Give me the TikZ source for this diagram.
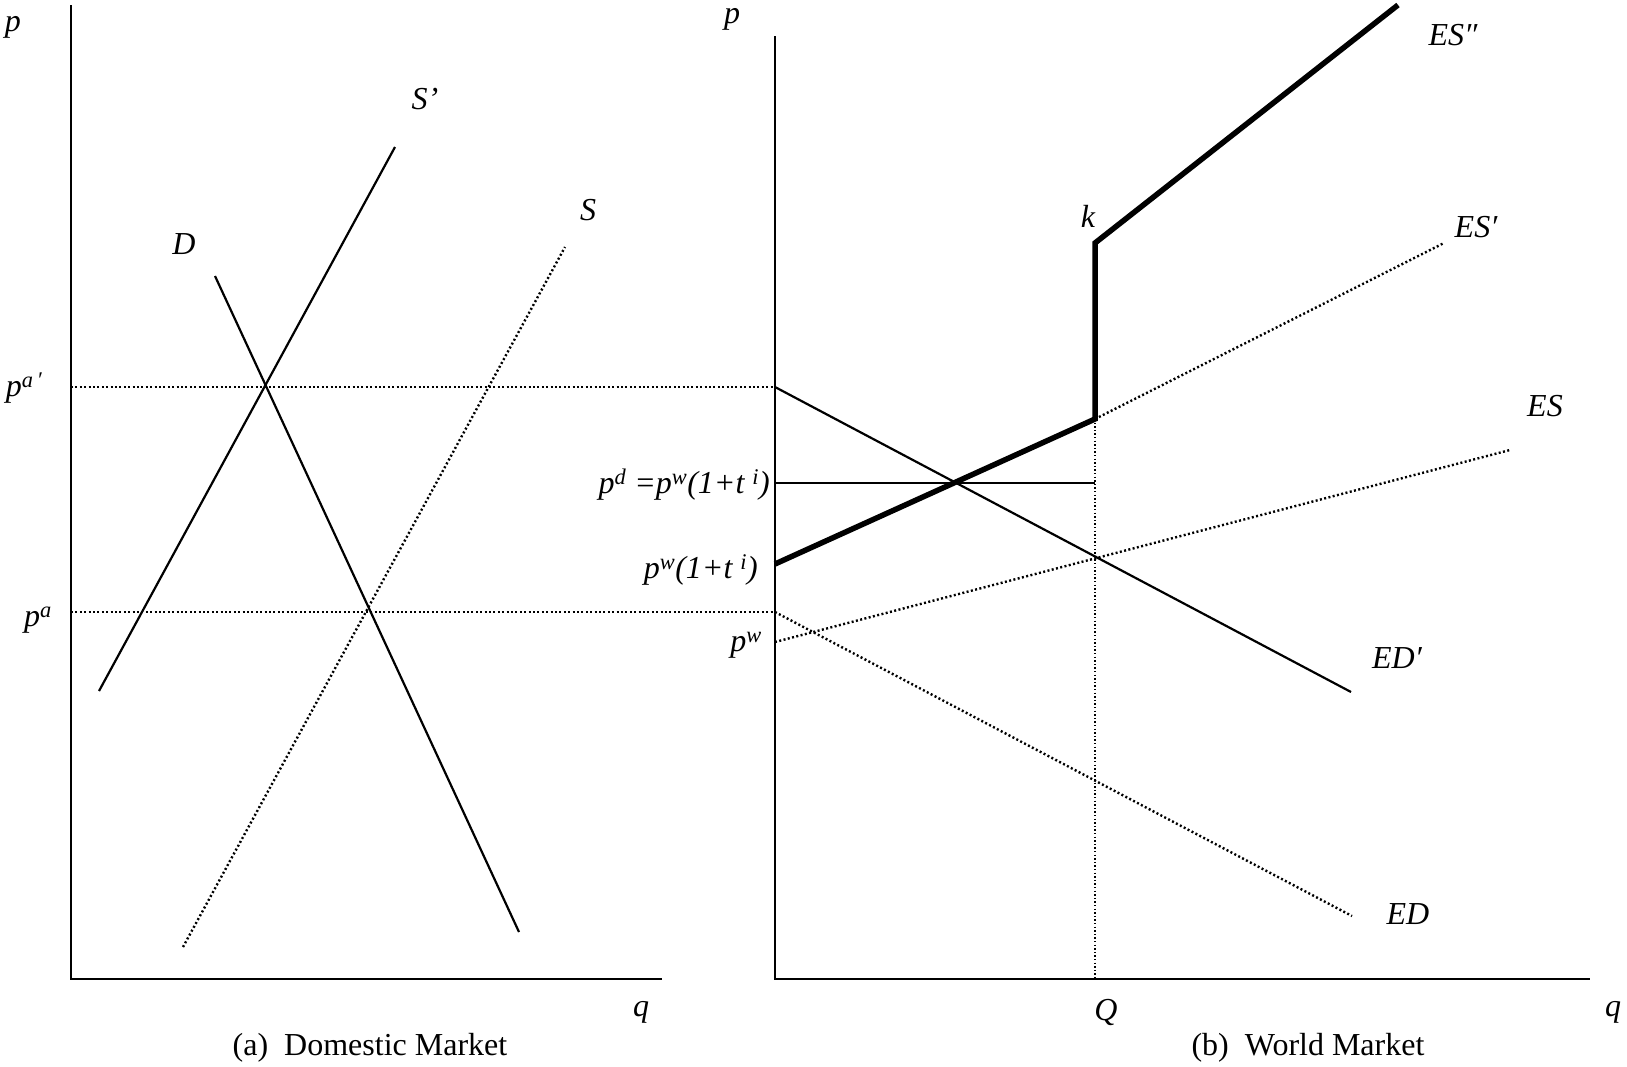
\documentclass[tikz,border=0pt]{standalone}
\usepackage{fontspec}
\setmainfont{Liberation Serif}
\usetikzlibrary{positioning}

\begin{document}
\begin{tikzpicture}[x=1pt,y=-1pt,line cap=butt,
  axis/.style={line width=2.6pt},
  curve/.style={line width=2.2pt},
  dots/.style={line width=2.4pt,dash pattern=on 2pt off 2.4pt},
  finedots/.style={line width=1.4pt,dash pattern=on 1.4pt off 2.2pt},
  kinked/.style={line width=5.5pt,line join=miter},
  lbl/.style={inner sep=0pt,font=\fontsize{32}{36}\selectfont\itshape},
  captext/.style={inner sep=0pt,font=\fontsize{32}{36}\selectfont}]
\useasboundingbox (0,0) rectangle (1627,1066);

% (a) domestic market
\coordinate (O1) at (71,979);
\coordinate (Y1) at (71,5);
\coordinate (X1) at (662,979);
\draw[axis] (Y1) -- (O1) -- (X1);
\coordinate (Sp0) at (99,691);   \coordinate (Sp1) at (395,147);
\coordinate (S0) at (183,947);   \coordinate (S1) at (565,247);
\coordinate (D0) at (215,276);   \coordinate (D1) at (519,932);
\draw[curve] (Sp0) -- (Sp1);
\draw[dots] (S0) -- (S1);
\draw[curve] (D0) -- (D1);

% (b) world market
\coordinate (O2) at (775,979);
\coordinate (Y2) at (775,36);
\coordinate (X2) at (1590,979);
\draw[axis] (Y2) -- (O2) -- (X2);

% price levels across both panels
\coordinate (paaL) at (71,387);  \coordinate (paaR) at (775,387);
\coordinate (paL) at (71,612);   \coordinate (paR) at (775,612);
\draw[dots] (paaL) -- (paaR);
\draw[dots] (paL) -- (paR);

\coordinate (EDp1) at (1351,692);
\coordinate (ED1) at (1352,916);
\coordinate (ES0) at (775,642);  \coordinate (ES1) at (1510,450);
\coordinate (kink) at (1095,419);
\coordinate (k) at (1095,243);
\coordinate (ESq1) at (1444,243);
\coordinate (ESqq1) at (1398,5);
\coordinate (pt0) at (775,564);
\coordinate (pd0) at (775,483);  \coordinate (pd1) at (1095,483);
\coordinate (Q) at (1095,979);

\draw[curve] (paaR) -- (EDp1);
\draw[dots] (paR) -- (ED1);
\draw[dots] (ES0) -- (ES1);
\draw[dots] (kink) -- (ESq1);
\draw[curve] (pd0) -- (pd1);
\draw[finedots] (kink) -- (Q);
\draw[kinked] (pt0) -- (kink) -- (k) -- (ESqq1);

% labels
\node[lbl] (p1) at (13,27) {p};
\node[lbl] (q1) at (641,1012) {q};
\node[lbl] (p2) at (732,19) {p};
\node[lbl] (q2) at (1613,1012) {q};
\node[lbl] (Qlab) at (1106,1012) {Q};
\node[lbl] (paalab) at (24,388) {p\textsuperscript{a\,′}};
\node[lbl] (palab) at (38,620) {p\textsuperscript{a}};
\node[lbl] (Splab) at (425,99) {S’};
\node[lbl] (Slab) at (588,210) {S};
\node[lbl] (Dlab) at (184,244) {D};
\node[lbl,anchor=east] (pdlab) at (770,485) {p\textsuperscript{d} =p\textsuperscript{w}(1+t \textsuperscript{i})};
\node[lbl,anchor=east] (ptlab) at (758,570) {p\textsuperscript{w}(1+t \textsuperscript{i})};
\node[lbl,anchor=east] (pwlab) at (762,645) {p\textsuperscript{w}};
\node[lbl] (klab) at (1088,216) {k};
\node[lbl] (ESqqlab) at (1453,35) {ES″};
\node[lbl] (ESqlab) at (1476,227) {ES′};
\node[lbl] (ESlab) at (1545,406) {ES};
\node[lbl] (EDplab) at (1397,658) {ED′};
\node[lbl] (EDlab) at (1408,914) {ED};
\node[captext] (capa) at (370,1048) {(a)\ \ Domestic Market};
\node[captext] (capb) at (1308,1048) {(b)\ \ World Market};
\end{tikzpicture}
\end{document}
